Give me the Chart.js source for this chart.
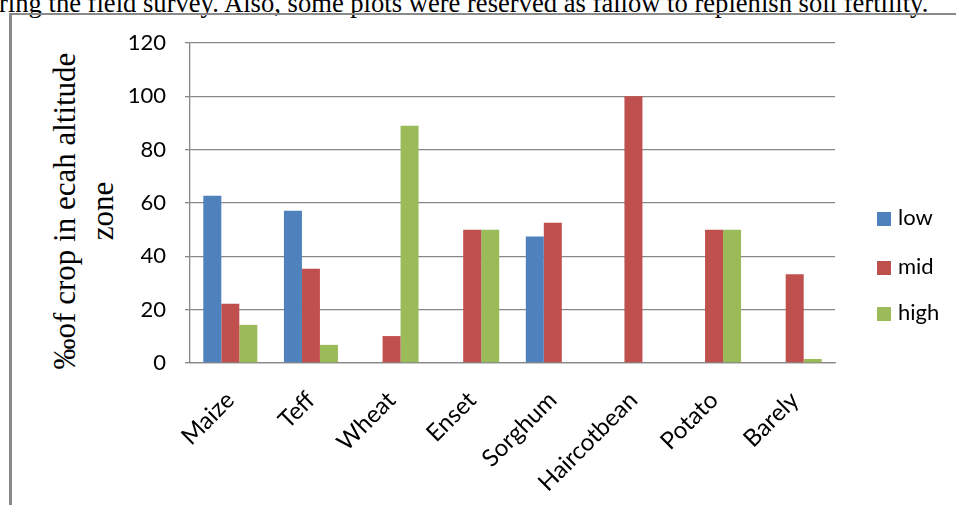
<!DOCTYPE html>
<html>
<head>
<meta charset="utf-8">
<script src="https://cdn.jsdelivr.net/npm/chart.js@4.4.1/dist/chart.umd.min.js"></script>
<style>
    body { margin: 0; background: #fff; width: 956px; height: 505px; overflow: hidden; position: relative; }
    #top-text {
        position: absolute; left: -1px; top: -9px;
        font: 26.6px "Liberation Serif", serif; line-height: 24px;
        white-space: nowrap; color: #000;
    }
    #frame {
        position: absolute; left: 9px; top: 13px; width: 1000px; height: 600px;
        border-left: 3px solid #8a8a8a; border-top: 2px solid #8a8a8a;
    }
    #y-title {
        position: absolute; left: 84px; top: 211px; width: 400px;
        transform: translate(-50%, -50%) rotate(-90deg);
        font: 31px "Liberation Serif", serif; line-height: 38px;
        text-align: center; color: #000; white-space: nowrap;
    }
    #chart { position: absolute; left: 0; top: 0; }
    .legend-item {
        position: absolute; left: 877px;
        font: 22px Lato, sans-serif; color: #000; line-height: 22px;
    }
    .legend-item span.box {
        display: inline-block; width: 14px; height: 14px; margin-right: 7px;
        vertical-align: -1px;
    }
</style>
</head>
<body>
<div id="top-text">ring the field survey. Also, some plots were reserved as fallow to replenish soil fertility.</div>
<div id="frame"></div>
<div id="y-title">‰of crop in ecah altitude<br>zone</div>
<canvas id="chart" width="956" height="505"></canvas>
<div id="legend"></div>

<script>
// Data
const crops = ["Maize", "Teff", "Wheat", "Enset", "Sorghum", "Haircotbean", "Potato", "Barely"];
const lowValues = [62.7, 57.1, 0, 0, 47.4, 0, 0, 0];
const midValues = [22.2, 35.3, 10.1, 50, 52.6, 100, 50, 33.3];
const highValues = [14.3, 6.8, 89, 50, 0, 0, 50, 1.5];
const seriesNames = ["low", "mid", "high"];
const seriesColors = ["#4F81BD", "#C0504D", "#9BBB59"];
const yTicks = [0, 20, 40, 60, 80, 100, 120];

const gridGray = "#878787";
const allValues = [lowValues, midValues, highValues];

// Legend built by hand so it sits where the original one does
const legendTops = [206, 255, 301];
const legendEl = document.getElementById("legend");
seriesNames.forEach((name, i) => {
    const item = document.createElement("div");
    item.className = "legend-item";
    item.style.top = legendTops[i] + "px";
    item.innerHTML = `<span class="box" style="background:${seriesColors[i]}"></span>${name}`;
    legendEl.appendChild(item);
});

const ctx = document.getElementById("chart").getContext("2d");
new Chart(ctx, {
    type: "bar",
    data: {
        labels: crops,
        datasets: seriesNames.map((name, i) => ({
            label: name,
            data: allValues[i],
            backgroundColor: seriesColors[i],
            borderWidth: 0,
            categoryPercentage: 0.67,
            barPercentage: 1.0
        }))
    },
    options: {
        responsive: false,
        animation: false,
        layout: {
            padding: { left: 0, right: 121, top: 43, bottom: 0 }
        },
        plugins: {
            legend: { display: false },
            tooltip: { enabled: false }
        },
        scales: {
            x: {
                grid: { display: false },
                border: { display: true, color: gridGray, width: 1.3 },
                ticks: {
                    autoSkip: false,
                    maxRotation: 45,
                    minRotation: 45,
                    padding: 15,
                    color: "#000",
                    font: { family: "Lato", size: 24 }
                },
                afterFit: (scale) => { scale.height = 142; }
            },
            y: {
                min: 0,
                max: 120,
                afterBuildTicks: (scale) => {
                    scale.ticks = yTicks.map((v) => ({ value: v }));
                },
                grid: {
                    color: gridGray,
                    lineWidth: 1.3,
                    drawTicks: true,
                    tickLength: 5
                },
                border: { display: true, color: gridGray, width: 1.3 },
                ticks: {
                    padding: 19,
                    color: "#000",
                    font: { family: "Lato", size: 22 }
                },
                afterFit: (scale) => { scale.width = 190; }
            }
        }
    }
});
</script>
</body>
</html>
